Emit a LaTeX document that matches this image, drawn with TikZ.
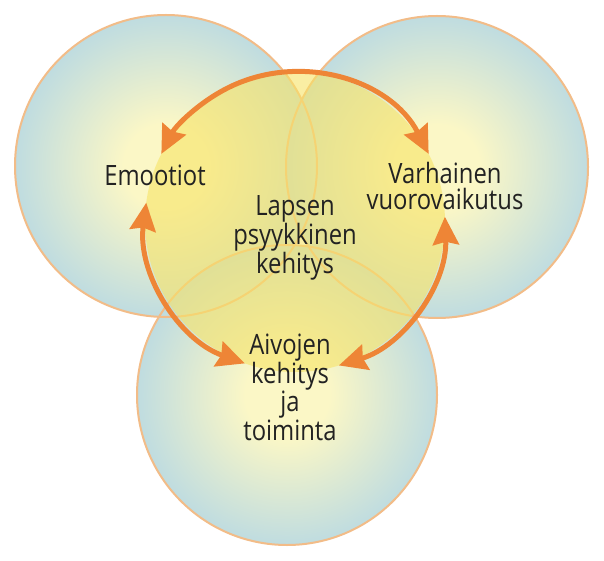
\documentclass[tikz,border=0pt]{standalone}
\usepackage{fontspec}
\newfontfamily\lblfont[FakeStretch=0.85]{Open Sans}
\usepackage{xcolor}
\usetikzlibrary{arrows.meta}
\definecolor{bub-core}{HTML}{FBF7C6}
\definecolor{bub-edge}{HTML}{BFDCE0}
\definecolor{bub-rim}{HTML}{F2BC88}
\definecolor{ring-fill}{HTML}{F7E366}
\definecolor{link-orange}{HTML}{EE8536}
\definecolor{ink}{HTML}{222222}
\pgfdeclareradialshading{bubble}{\pgfpoint{0bp}{0bp}}{color(0bp)=(bub-core); color(7bp)=(bub-core); color(25bp)=(bub-edge); color(50bp)=(bub-edge)}

\begin{document}
\begin{tikzpicture}[x=1pt, y=1pt,
    every node/.style={font=\lblfont\fontsize{28}{26.7}\selectfont, text=ink,
      align=center, inner sep=0pt, anchor=base},
    rim/.style={draw=bub-rim, line width=2pt},
    link/.style={draw=link-orange, line width=5pt,
      {Stealth[length=28pt,width=26pt,inset=3pt]}-{Stealth[length=28pt,width=26pt,inset=3pt]}}]
    \useasboundingbox (0,0) rectangle (604,560);
    \coordinate (left) at (166,394);
    \coordinate (right) at (437,393);
    \coordinate (bottom) at (287,165);
    \coordinate (ring) at (295,338);
    % the three bubbles
    \foreach \c/\r in {left/151, right/151, bottom/150}
      \shade[shading=bubble] (\c) circle[radius=\r];
    \foreach \c/\r in {left/151, right/151, bottom/150}
      \draw[rim] (\c) circle[radius=\r];
    \fill[ring-fill, opacity=0.6] (ring) circle[radius=150];
    % labels (base = last line)
    \node (emoot) at (155,374) {Emootiot};
    \node (varh) at (445,350) {Varhainen\\vuorovaikutus};
    \node (lapsen) at (295,287) {Lapsen\\psyykkinen\\kehitys};
    \node (aivo) at (290,120) {Aivojen\\kehitys\\ja\\toiminta};
    % arrows round the ring
    \draw[link] ([shift={(27:150)}]ring) arc[start angle=27, end angle=153, radius=150];
    \draw[link] ([shift={(172.6:150)}]ring) arc[start angle=172.6, end angle=250.5, radius=150];
    \draw[link] ([shift={(2:150)}]ring) arc[start angle=2, end angle=-73, radius=150];
  \end{tikzpicture}
\end{document}
